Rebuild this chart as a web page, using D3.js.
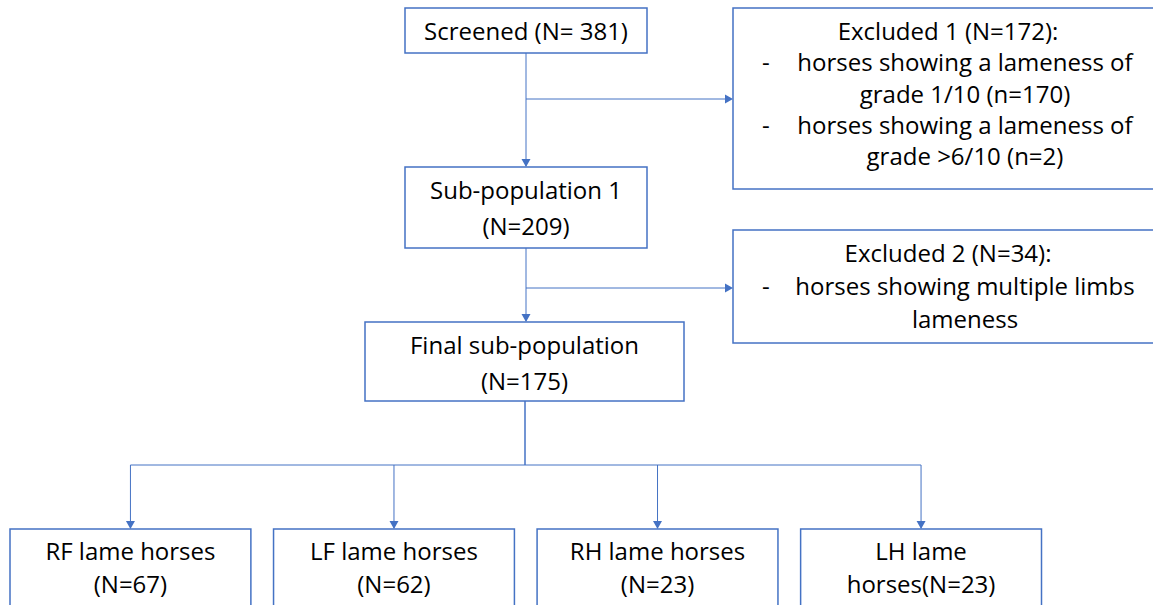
<!DOCTYPE html>
<html>
<head>
<meta charset="utf-8">
<script src="https://cdn.jsdelivr.net/npm/d3@7"></script>
<style>
  html, body { margin: 0; padding: 0; background: #fff; }
  svg { display: block; }
  text { font-family: "Open Sans", sans-serif; font-size: 24px; fill: #000; }
</style>
</head>
<body>
<svg id="chart" width="1153" height="605"></svg>
<script>
// ---- data ----
const stepNames = ["Screened", "Sub-population 1", "Final sub-population"];
const stepCounts = [381, 209, 175];
const excludedNames = ["Excluded 1", "Excluded 2"];
const excludedCounts = [172, 34];
const excludedReasons = [
  [["horses showing a lameness of", "grade 1/10 (n=170)"],
   ["horses showing a lameness of", "grade >6/10 (n=2)"]],
  [["horses showing multiple limbs", "lameness"]]
];
const groups = ["RF", "LF", "RH", "LH"];
const groupCounts = [67, 62, 23, 23];

// ---- layout ----
const blue = "#4472C4";
const svg = d3.select("#chart");

// main-column boxes
const stepBoxes = [
  { x0: 405, x1: 647, y0: 8, y1: 53,
    lines: [`${stepNames[0]} (N= ${stepCounts[0]})`], base: 40 },
  { x0: 405, x1: 647, y0: 167, y1: 248,
    lines: [stepNames[1], `(N=${stepCounts[1]})`], base: 199 },
  { x0: 365, x1: 684, y0: 322, y1: 401,
    lines: [stepNames[2], `(N=${stepCounts[2]})`], base: 354 }
];
const exclBoxes = [
  { x0: 733, x1: 1170, y0: 8, y1: 189, base: 40, arrowY: 99, lh: 31.3 },
  { x0: 733, x1: 1170, y0: 230, y1: 343, base: 262, arrowY: 288, lh: 33 }
];
const stemX = 526;

// bottom boxes via band scale
const xBand = d3.scaleBand().domain(groups).range([10, 1041.5]).paddingInner(0.086).paddingOuter(0);
const bottomY0 = 529, bottomY1 = 620, splitY = 465;
const bottomLines = groups.map((g, i) => g === "LH"
  ? [`${g} lame`, `horses(N=${groupCounts[i]})`]
  : [`${g} lame horses`, `(N=${groupCounts[i]})`]);

function box(b) {
  svg.append("rect")
    .attr("x", b.x0).attr("y", b.y0)
    .attr("width", b.x1 - b.x0).attr("height", b.y1 - b.y0)
    .attr("fill", "#fff").attr("stroke", blue).attr("stroke-width", 1.5);
}
function line(x1, y1, x2, y2, w) {
  svg.append("line").attr("x1", x1).attr("y1", y1).attr("x2", x2).attr("y2", y2)
    .attr("stroke", blue).attr("stroke-width", w || 1);
}
function arrowHead(x, y, dir) {
  const s = 8, h = 4.5;
  let pts;
  if (dir === "down") pts = [[x, y], [x - h, y - s], [x + h, y - s]];
  else pts = [[x, y], [x - s, y - h], [x - s, y + h]];
  svg.append("path").attr("d", d3.line()(pts) + "Z").attr("fill", blue);
}

// connectors
line(stemX, stepBoxes[0].y1, stemX, stepBoxes[1].y0 - 1);
arrowHead(stemX, stepBoxes[1].y0, "down");
line(stemX, exclBoxes[0].arrowY, exclBoxes[0].x0 - 2, exclBoxes[0].arrowY);
arrowHead(exclBoxes[0].x0, exclBoxes[0].arrowY, "right");

line(stemX, stepBoxes[1].y1, stemX, stepBoxes[2].y0 - 1);
arrowHead(stemX, stepBoxes[2].y0, "down");
line(stemX, exclBoxes[1].arrowY, exclBoxes[1].x0 - 2, exclBoxes[1].arrowY);
arrowHead(exclBoxes[1].x0, exclBoxes[1].arrowY, "right");

const cx = g => xBand(g) + xBand.bandwidth() / 2;
line(525, stepBoxes[2].y1, 525, splitY, 1.5);
line(cx(groups[0]), splitY, cx(groups[groups.length - 1]), splitY);
groups.forEach(g => {
  line(cx(g), splitY, cx(g), bottomY0 - 1);
  arrowHead(cx(g), bottomY0, "down");
});

// main boxes
stepBoxes.forEach(b => {
  box(b);
  const mid = (b.x0 + b.x1) / 2;
  b.lines.forEach((t, i) => {
    svg.append("text").attr("x", mid).attr("y", b.base + i * 35.5)
      .attr("text-anchor", "middle").text(t);
  });
});

// excluded boxes
exclBoxes.forEach((b, k) => {
  box(b);
  let y = b.base;
  svg.append("text").attr("x", 948).attr("y", y).attr("text-anchor", "middle")
    .text(`${excludedNames[k]} (N=${excludedCounts[k]}):`);
  excludedReasons[k].forEach(item => {
    item.forEach((t, j) => {
      y += b.lh;
      if (j === 0) {
        svg.append("text").attr("x", 762).attr("y", y).text("-");
      }
      svg.append("text").attr("x", 965).attr("y", y).attr("text-anchor", "middle").text(t);
    });
  });
});

// bottom boxes
groups.forEach((g, i) => {
  const b = { x0: xBand(g), x1: xBand(g) + xBand.bandwidth(), y0: bottomY0, y1: bottomY1 };
  box(b);
  bottomLines[i].forEach((t, j) => {
    svg.append("text").attr("x", cx(g)).attr("y", 560 + j * 33)
      .attr("text-anchor", "middle").text(t);
  });
});
</script>
</body>
</html>
